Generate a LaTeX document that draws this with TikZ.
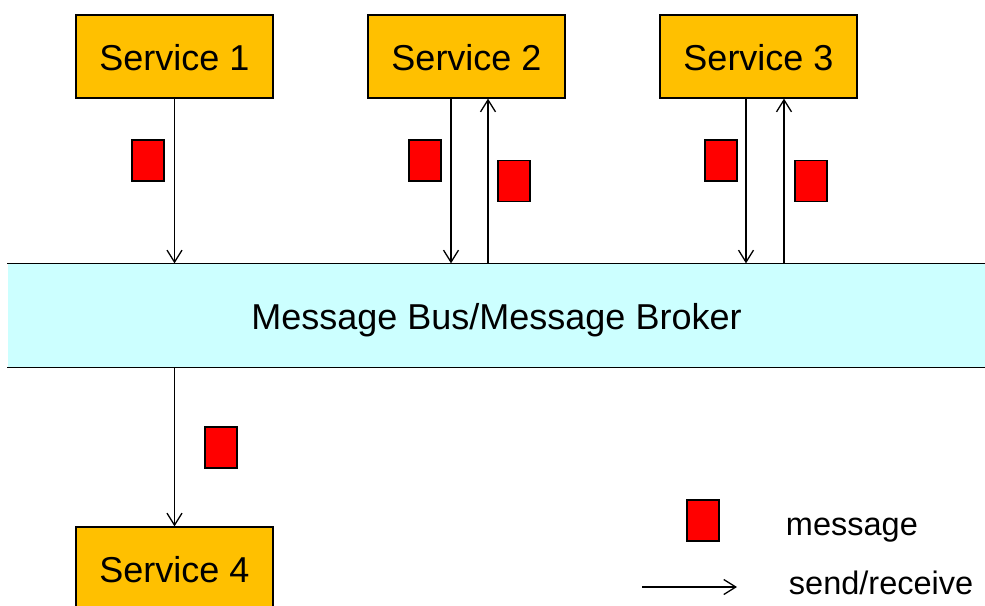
\documentclass[tikz,border=0pt]{standalone}
\usepackage{fontspec}
\setmainfont{Liberation Sans}
\usetikzlibrary{arrows.meta, positioning}
\usepackage{xcolor}
\definecolor{svcfill}{HTML}{FFC000}
\definecolor{busfill}{HTML}{CCFFFF}

\begin{document}
\begin{tikzpicture}[x=1pt, y=-1pt, line width=1.3pt,
    >={Straight Barb[length=12pt, width=15pt]},
    service/.style={draw, line width=1.3pt, fill=svcfill, minimum width=197pt, minimum height=83pt, text height=28pt, text depth=0pt, font=\fontsize{36}{40}\selectfont},
    msg/.style={draw, line width=1.3pt, fill=red, minimum width=32pt, minimum height=41pt, inner sep=0pt},
    legend/.style={anchor=base west, font=\fontsize{32.5}{36}\selectfont}]
    \useasboundingbox (0,0) rectangle (985,605);

    % bus
    \node[fill=busfill, minimum width=977pt, minimum height=103pt, text height=28pt, text depth=0pt, font=\fontsize{36}{40}\selectfont] (bus) at (496.5,315.5) {Message Bus/Message Broker};
    \draw[line width=1.5pt] (bus.north west) -- (bus.north east);
    \draw[line width=1.5pt] (bus.south west) -- (bus.south east);

    \node[service] (s1) at (174.5,56.5) {Service 1};
    \node[service] (s2) at (466.5,56.5) {Service 2};
    \node[service] (s3) at (758.5,56.5) {Service 3};
    \node[service] (s4) at (174.5,568.5) {Service 4};

    \node[msg] (m1) at (148,160.5) {};
    \node[msg] (m2a) at (425,160.5) {};
    \node[msg] (m2b) at (514,181) {};
    \node[msg] (m3a) at (721,160.5) {};
    \node[msg] (m3b) at (811,181) {};
    \node[msg] (m4) at (221,447.5) {};

    \path[->]
    (s1.south) edge (s1.south |- bus.north)
    ([xshift=-15.5pt]s2.south) edge ([xshift=-15.5pt]s2.south |- bus.north)
    ([xshift=21.5pt]s2.south |- bus.north) edge ([xshift=21.5pt]s2.south)
    ([xshift=-12.5pt]s3.south) edge ([xshift=-12.5pt]s3.south |- bus.north)
    ([xshift=25.5pt]s3.south |- bus.north) edge ([xshift=25.5pt]s3.south)
    (s4.north |- bus.south) edge (s4.north);

    % legend
    \node[msg] (lmsg) at (703,520.5) {};
    \node[legend] (lmsgtext) at (782,535) {message};
    \coordinate (la) at (642,587);
    \coordinate (lb) at (737,587);
    \draw[->] (la) -- (lb);
    \node[legend] (larrtext) at (785,594) {send/receive};
\end{tikzpicture}
\end{document}
